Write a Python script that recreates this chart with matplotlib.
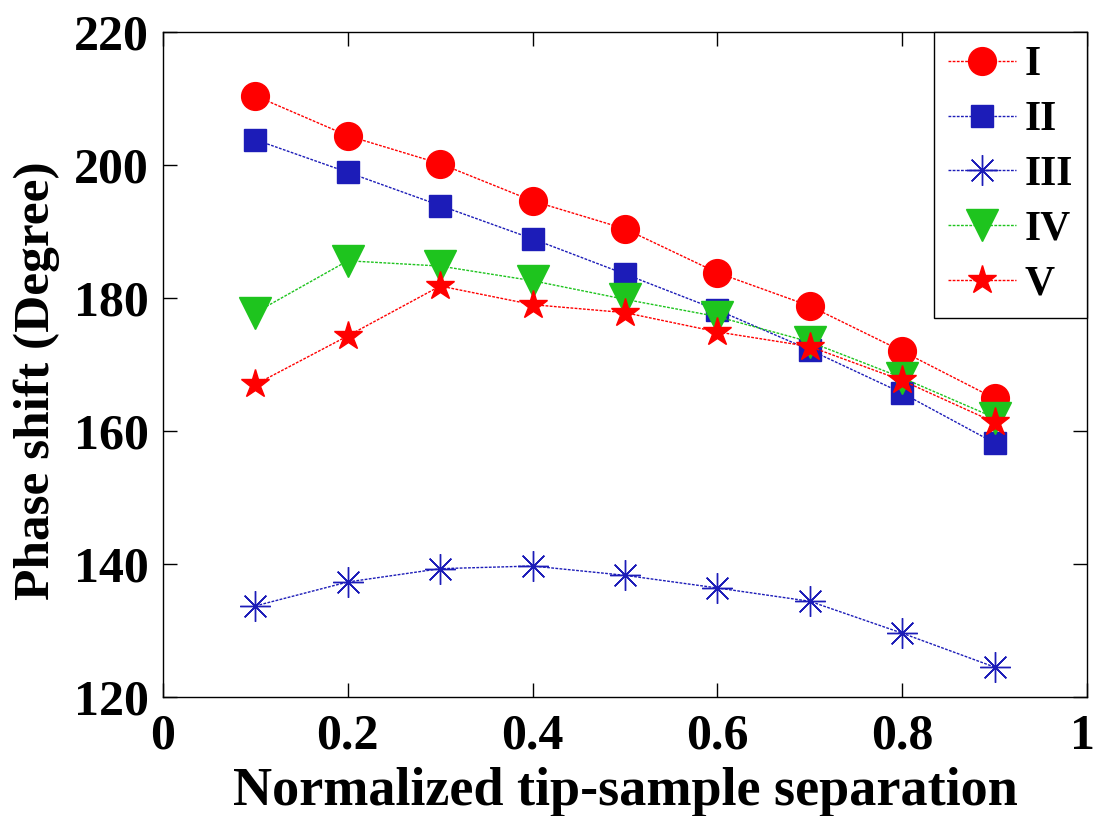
import matplotlib
matplotlib.use("Agg")
import matplotlib.pyplot as plt
import matplotlib.transforms as mtransforms

x = [0.1, 0.2, 0.3, 0.4, 0.5, 0.6, 0.7, 0.8, 0.9]
s1 = [210.4, 204.4, 200.2, 194.6, 190.4, 183.8, 178.8, 172.0, 164.9]
s2 = [203.8, 198.9, 193.9, 188.9, 183.6, 178.2, 172.2, 165.7, 158.2]
s3 = [133.7, 137.3, 139.3, 139.7, 138.3, 136.4, 134.4, 129.6, 124.5]
s4 = [177.8, 185.6, 184.8, 182.6, 179.8, 177.2, 173.4, 168.0, 162.0]
s5 = [167.0, 174.3, 181.8, 179.0, 177.8, 174.9, 172.7, 167.6, 161.3]
labels = ["I", "II", "III", "IV", "V"]

plt.rcParams['font.family'] = ['Liberation Serif', 'DejaVu Serif']
plt.rcParams['font.weight'] = 'bold'

fig = plt.figure(figsize=(10.96, 8.16), dpi=100)
ax = fig.add_axes([0.1487, 0.1458, 0.9918 - 0.1487, 0.9608 - 0.1458])

red = '#ff0000'
blue = '#1c1cb8'
green = '#1ec41e'
ls = (0, (2, 1))
ax.plot(x, s1, linestyle=ls, lw=1, color=red, marker='o', ms=20, mfc=red, mec=red, label=labels[0])
ax.plot(x, s2, linestyle=ls, lw=1, color=blue, marker='s', ms=16, mfc=blue, mec=blue, label=labels[1])
ax.plot(x, s3, linestyle=ls, lw=1, color=blue, marker=(8, 2, 0), ms=22, mew=1, mec=blue, label=labels[2])
ax.plot(x, s4, linestyle=ls, lw=1, color=green, marker='v', ms=23, mfc=green, mec=green, label=labels[3])
ax.plot(x, s5, linestyle=ls, lw=1, color=red, marker='*', ms=21, mfc=red, mec=red, label=labels[4])

ax.set_xlim(0, 1)
ax.set_ylim(120, 220)
ax.set_xticks([0, 0.2, 0.4, 0.6, 0.8, 1])
ax.set_xticklabels(['0', '0.2', '0.4', '0.6', '0.8', '1'])
ax.set_yticks([120, 140, 160, 180, 200, 220])
ax.tick_params(direction='in', length=10, width=1, top=True, right=True, labelsize=36)
ax.tick_params(axis='x', pad=12)
ax.tick_params(axis='y', pad=10)
for t in ax.get_xticklabels() + ax.get_yticklabels():
    t.set_fontweight('bold')
last = ax.get_xticklabels()[-1]
last.set_transform(last.get_transform() + mtransforms.ScaledTranslation(-5 / 100, 0, fig.dpi_scale_trans))
for sp in ax.spines.values():
    sp.set_linewidth(1)

ax.set_xlabel('Normalized tip-sample separation', fontsize=39, fontweight='bold')
ax.set_ylabel('Phase shift (Degree)', fontsize=37, fontweight='bold')
ax.xaxis.set_label_coords(0.5, -0.105)
ax.yaxis.set_label_coords(-0.111, 0.475)

leg = ax.legend(loc='upper right', fontsize=30, frameon=True, fancybox=False,
                edgecolor='black', framealpha=1, borderaxespad=0.0, handlelength=1.63,
                labelspacing=0.4, handletextpad=0.2, borderpad=0.34)
leg.get_frame().set_linewidth(1)
for t in leg.get_texts():
    t.set_fontweight('bold')

fig.savefig('out.png', dpi=100)
